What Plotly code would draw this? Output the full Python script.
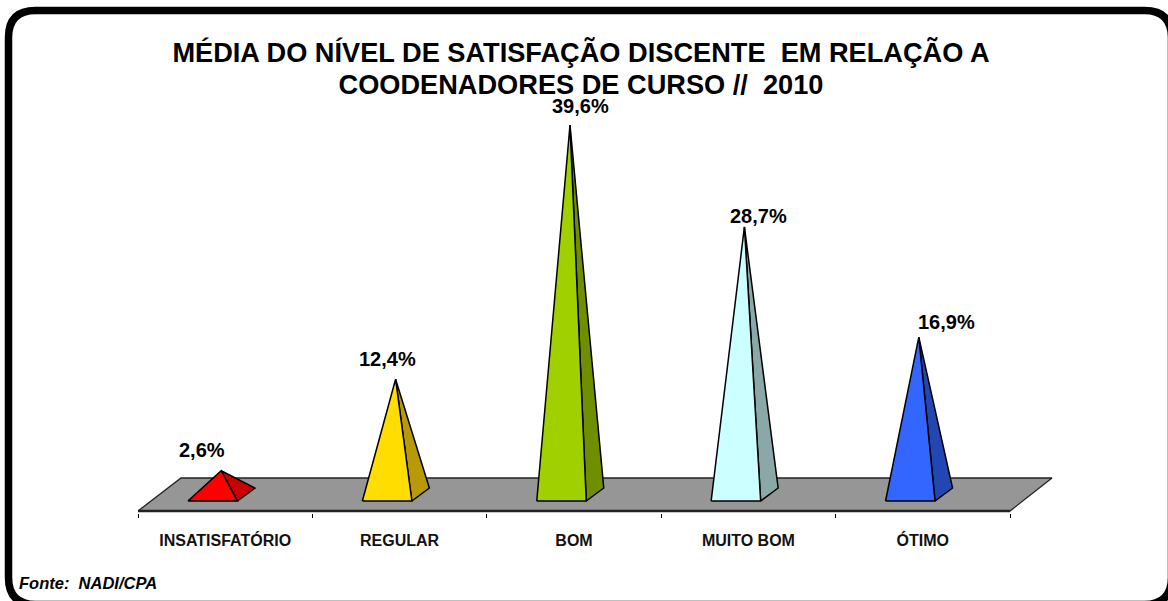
import plotly.graph_objects as go

categories = ["INSATISFATÓRIO", "REGULAR", "BOM", "MUITO BOM", "ÓTIMO"]
values = [2.6, 12.4, 39.6, 28.7, 16.9]
value_labels = ["2,6%", "12,4%", "39,6%", "28,7%", "16,9%"]
front_colors = ["#FF0000", "#FFDD00", "#A0D000", "#CCFFFF", "#3366FF"]
side_colors = ["#CC0000", "#B89A08", "#6F8F00", "#8AA8A8", "#2347B2"]
label_dx = [-19, -8, 10, 14, 28]
label_dy = [21, 20, 19, 11, 15]

W, H = 1168, 601
L, R, B = 138, 1060, 513          # plot box in px (wide enough for the floor's back corner)
BAND = 872 / 5
PX_PER_UNIT = 9.34
Y_ZERO_PX = 495


def dx(px):
    return px / BAND


def dy(px):
    return px / PX_PER_UNIT


y_min = -dy(B - Y_ZERO_PX)
y_max = dy(Y_ZERO_PX)
x_min = -0.5
x_max = x_min + dx(R - L)
floor_front = -dy(511 - Y_ZERO_PX)

fig = go.Figure()

# floor
fx = [-0.5, 4.5, 4.5 + dx(42), -0.5 + dx(43), -0.5]
fy = [floor_front, floor_front, dy(17), dy(17), floor_front]
fig.add_trace(go.Scatter(x=fx, y=fy, mode="lines", fill="toself", fillcolor="#969696",
                         line=dict(color="#222222", width=1.3),
                         hoverinfo="skip", showlegend=False))
fig.add_trace(go.Scatter(x=[-0.5, 4.5], y=[floor_front, floor_front], mode="lines",
                         line=dict(color="#222222", width=2.5),
                         hoverinfo="skip", showlegend=False))

# pyramids
for i, (cat, v, fc, sc) in enumerate(zip(categories, values, front_colors, side_colors)):
    c = i - dx(12.5)
    half = dx(24.75)
    base = -dy(6)
    fl, fr = c - half, c + half
    tip_x = c + dx(8.5)
    back_x, back_y = fr + dx(17.5), base + dy(13)
    fig.add_trace(go.Scatter(x=[fr, back_x, tip_x, fr], y=[base, back_y, v, base], mode="lines",
                             fill="toself", fillcolor=sc, line=dict(color="#000000", width=1.5),
                             name=cat, showlegend=False))
    fig.add_trace(go.Scatter(x=[fl, fr, tip_x, fl], y=[base, base, v, base], mode="lines",
                             fill="toself", fillcolor=fc, line=dict(color="#000000", width=1.5),
                             name=cat, showlegend=False))
    fig.add_annotation(x=tip_x, y=v, text=value_labels[i], showarrow=False,
                       xshift=label_dx[i], yshift=label_dy[i],
                       font=dict(family="Liberation Sans", size=20, color="#000000", weight="bold"),
                       xanchor="center", yanchor="middle")


# rounded frame (stroke runs partly off the page, as in the reference)
def px(x):
    return (x - L) / (R - L)


def py(y):
    return (B - y) / B


x0, x1, y0, y1, r = 8.5, 1171.5, 10.5, 604.5, 27
frame = (f"M {px(x0)} {py(y0 + r)} Q {px(x0)} {py(y0)} {px(x0 + r)} {py(y0)} "
         f"L {px(x1 - r)} {py(y0)} Q {px(x1)} {py(y0)} {px(x1)} {py(y0 + r)} "
         f"L {px(x1)} {py(y1 - r)} Q {px(x1)} {py(y1)} {px(x1 - r)} {py(y1)} "
         f"L {px(x0 + r)} {py(y1)} Q {px(x0)} {py(y1)} {px(x0)} {py(y1 - r)} Z")
fig.add_shape(type="path", xref="paper", yref="paper", path=frame,
              line=dict(color="#000000", width=7.5), fillcolor="rgba(0,0,0,0)", layer="above")

fig.add_annotation(xref="paper", yref="paper", x=px(17), y=py(582.5), xanchor="left", yanchor="middle",
                   text="<b><i>Fonte:\u00a0\u00a0NADI/CPA</i></b>", showarrow=False,
                   font=dict(family="Liberation Sans", size=16.5, color="#000000"))

title_text = ("<b>MÉDIA DO NÍVEL DE SATISFAÇÃO DISCENTE\u00a0\u00a0EM RELAÇÃO A<br>"
              "COODENADORES DE CURSO //\u00a0\u00a02010</b>")

fig.update_layout(
    width=W, height=H, autosize=False,
    margin=dict(l=L, r=W - R, t=0, b=H - B),
    paper_bgcolor="#FFFFFF", plot_bgcolor="rgba(0,0,0,0)",
    showlegend=False,
    title=dict(text=f'<span style="font-size:27.2px">{title_text}</span>',
               x=581 / W, xanchor="center", xref="container",
               y=1 - 62 / H, yanchor="middle", yref="container",
               font=dict(family="Liberation Sans", size=24.6, color="#000000")),
    xaxis=dict(range=[x_min, x_max], showgrid=False, zeroline=False, showline=False,
               tickmode="array", tickvals=list(range(5)), ticktext=categories,
               ticks="", ticklabelstandoff=16,
               tickfont=dict(family="Liberation Sans", size=16, color="#111111", weight="bold"),
               minor=dict(tickmode="array", tickvals=[i - 0.5 for i in range(6)],
                          ticks="outside", ticklen=4, tickwidth=1, tickcolor="#000000")),
    yaxis=dict(range=[y_min, y_max], visible=False),
)

fig.write_html("out.html", config=dict(displayModeBar=False),
               post_script="document.body.style.margin='0';")
